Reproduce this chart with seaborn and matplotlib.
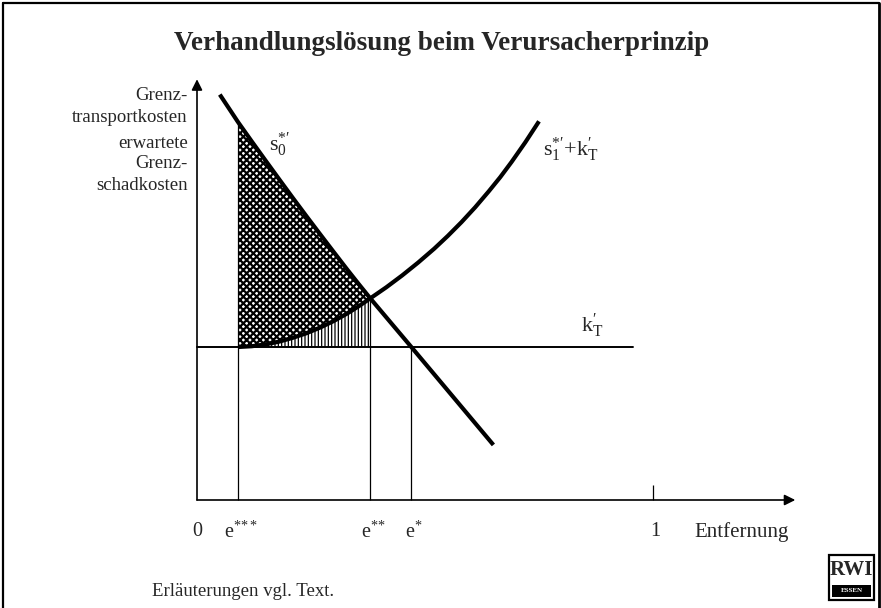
import numpy as np
import pandas as pd
import matplotlib
matplotlib.use("Agg")
import matplotlib.pyplot as plt
from matplotlib.lines import Line2D
from matplotlib.patches import Rectangle
import seaborn as sns

# ---------------- data ----------------
# marginal expected damage cost curve s0*'
s0_x = [0.05, 0.09, 0.12, 0.15, 0.18, 0.21, 0.24, 0.27, 0.30, 0.33, 0.355, 0.38, 0.47, 0.56, 0.65]
s0_y = [2.65, 2.47, 2.344, 2.22, 2.097, 1.975, 1.855, 1.737, 1.62, 1.504, 1.41, 1.318, 1.0, 0.68, 0.36]
# s1*' + kT' curve
s1_x = [0.09, 0.12, 0.15, 0.18, 0.21, 0.24, 0.27, 0.30, 0.33, 0.355, 0.38, 0.415, 0.45,
        0.485, 0.52, 0.55, 0.58, 0.61, 0.64, 0.665, 0.69, 0.72, 0.75]
s1_y = [1.0, 1.005, 1.017, 1.035, 1.06, 1.09, 1.127, 1.17, 1.22, 1.267, 1.318, 1.39, 1.468,
        1.552, 1.642, 1.726, 1.816, 1.913, 2.018, 2.11, 2.21, 2.338, 2.475]
# marginal transport cost level kT'
kT_level = 1.0
kT_xmax = 0.956
# special distances
e3, e2, e1 = 0.09, 0.38, 0.47
x_ticks = [0, e3, e2, e1, 1]
x_tick_labels = ["0", r"$\mathrm{e}^{*\!*\!*}$", r"$\mathrm{e}^{*\!*}$", r"$\mathrm{e}^{*}$", "1"]
y_label_lines = ["Grenz-", "transportkosten", "erwartete", "Grenz-", "schadkosten"]
title = "Verhandlungslösung beim Verursacherprinzip"
x_axis_label = "Entfernung"
note = "Erläuterungen vgl. Text."

# ---------------- style ----------------
sns.set_style("white")
plt.rcParams["font.family"] = ["Liberation Serif", "DejaVu Serif"]
plt.rcParams["mathtext.fontset"] = "custom"
plt.rcParams["mathtext.rm"] = "Liberation Serif"
plt.rcParams["mathtext.it"] = "Liberation Serif:italic"
plt.rcParams["mathtext.bf"] = "Liberation Serif:bold"
plt.rcParams["hatch.color"] = "black"

W, H = 881, 608
fig = plt.figure(figsize=(W / 100, H / 100), dpi=100)
fig.patch.set_facecolor("white")

# axes covering the whole figure; data origin at pixel (197, 500)
X0, Y0, SX, SY = 197, 500, 456, 153
ax = fig.add_axes([0, 0, 1, 1])

def fx(px):
    return px / W

def fy(py):
    return 1 - py / H

# ---------------- frame ----------------
for (xa, ya, xb, yb, lw) in [(3, 3, 879, 3, 1.6), (3, 3, 3, 608, 1.6), (879, 3, 879, 608, 2.0)]:
    fig.add_artist(Line2D([fx(xa), fx(xb)], [fy(ya), fy(yb)], color="black", lw=lw,
                          transform=fig.transFigure))

# ---------------- hatched areas ----------------
n_common = 11  # points 0.09 .. 0.38 shared by both curves
cx = np.array(s1_x[:n_common])
s1_part = np.array(s1_y[:n_common])
s0_part = np.array(s0_y[1:1 + n_common])

plt.rcParams["hatch.linewidth"] = 1.6
c1 = ax.fill_between(cx, s1_part, s0_part, facecolor="none", edgecolor="black",
                     hatch="xxxxx", linewidth=0)
try:
    c1.set_hatch_linewidth(1.6)
except AttributeError:
    pass
plt.rcParams["hatch.linewidth"] = 0.9
c2 = ax.fill_between(cx, kT_level, s1_part, facecolor="none", edgecolor="black",
                     hatch="|||||", linewidth=0)
try:
    c2.set_hatch_linewidth(0.9)
except AttributeError:
    pass

# ---------------- axes with arrows ----------------
ax.annotate("", xy=(0, 2.75), xytext=(0, 0),
            arrowprops=dict(arrowstyle="-|>", color="black", lw=1.2, mutation_scale=16,
                            shrinkA=0, shrinkB=0))
ax.annotate("", xy=(1.312, 0), xytext=(0, 0),
            arrowprops=dict(arrowstyle="-|>", color="black", lw=1.2, mutation_scale=16,
                            shrinkA=0, shrinkB=0))

# kT' horizontal line
ax.plot([0, kT_xmax], [kT_level, kT_level], color="black", lw=1.4)

# drop lines
ax.vlines(e3, 0, s0_y[1], color="black", lw=0.9)
ax.vlines(e2, 0, s1_y[10], color="black", lw=0.9)
ax.vlines(e1, 0, kT_level, color="black", lw=0.9)
ax.vlines(1, 0, 0.1, color="black", lw=0.9)

# ---------------- curves ----------------
df0 = pd.DataFrame({"x": s0_x, "y": s0_y})
df1 = pd.DataFrame({"x": s1_x, "y": s1_y})
sns.lineplot(data=df0, x="x", y="y", ax=ax, color="black", lw=3.0, sort=False,
             solid_capstyle="butt")
sns.lineplot(data=df1, x="x", y="y", ax=ax, color="black", lw=3.0, sort=False,
             solid_capstyle="butt", solid_joinstyle="round")
ax.set_xlim(-X0 / SX, (W - X0) / SX)
ax.set_ylim((Y0 - H) / SY, Y0 / SY)
ax.axis("off")

# ---------------- texts ----------------
fig.text(fx(442), fy(43), title, ha="center", va="center", fontsize=19.5, fontweight="bold")

for txt, py in zip(y_label_lines, [96, 118, 144, 164, 185]):
    fig.text(fx(188), fy(py), txt, ha="right", va="center", fontsize=13.5)

ylab = (Y0 - 532) / SY
for xv, lab in zip(x_ticks, x_tick_labels):
    ax.text(xv + (0.006 if xv != 0 else 0), ylab, lab, ha="center", va="center", fontsize=14.5)
ax.text((742 - X0) / SX, ylab, x_axis_label, ha="center", va="center", fontsize=15)

ax.text((280 - X0) / SX, (Y0 - 145) / SY, r"$\mathrm{s}_{0}^{*\prime}$",
        ha="center", va="center", fontsize=16)
ax.text((543 - X0) / SX, (Y0 - 150) / SY,
        r"$\mathrm{s}_{1}^{*\prime}\mathrm{+k}_{\mathrm{T}}^{\prime}$",
        ha="left", va="center", fontsize=16)
ax.text((592 - X0) / SX, (Y0 - 326) / SY, r"$\mathrm{k}_{\mathrm{T}}^{\prime}$",
        ha="center", va="center", fontsize=16)

fig.text(fx(152), fy(591), note, ha="left", va="center", fontsize=13.5)

# ---------------- RWI logo ----------------
fig.add_artist(Rectangle((fx(829), fy(600)), fx(874) - fx(829), fy(555) - fy(600),
                         transform=fig.transFigure, facecolor="white", edgecolor="black", lw=1.6))
fig.add_artist(Rectangle((fx(832), fy(597)), fx(871) - fx(832), fy(585) - fy(597),
                         transform=fig.transFigure, facecolor="black", edgecolor="none"))
fig.text(fx(851.5), fy(570), "RWI", ha="center", va="center", fontsize=15, fontweight="bold")
fig.text(fx(851.5), fy(591), "ESSEN", ha="center", va="center", fontsize=5,
         fontweight="bold", color="white")

fig.savefig("out.png", dpi=100, facecolor="white")
